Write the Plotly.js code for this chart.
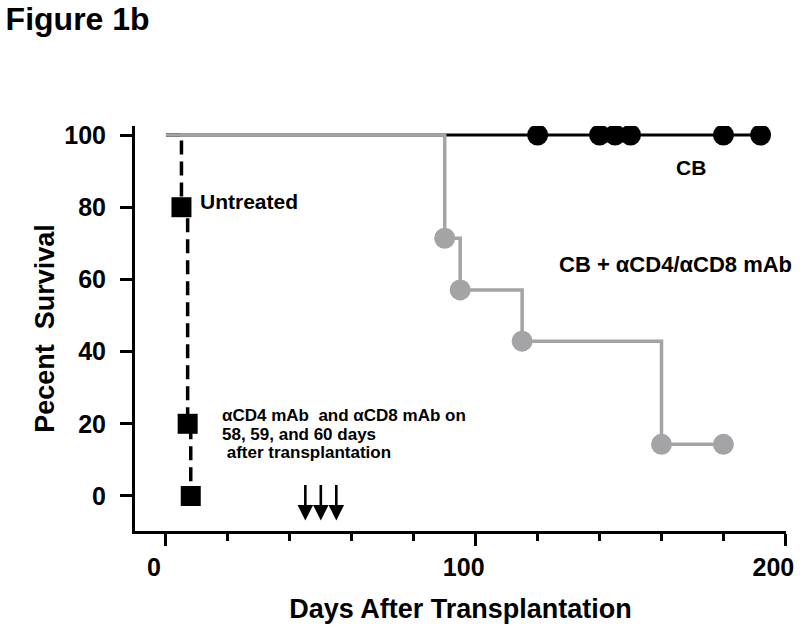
<!DOCTYPE html>
<html>
<head>
<meta charset="utf-8">
<script src="https://cdn.plot.ly/plotly-3.0.1.min.js"></script>
<style>html,body{margin:0;padding:0;background:#fff;}#chart{width:800px;height:630px;}</style>
</head>
<body>
<div id="chart"></div>
<script>
// ---- data ----
var cbDays = [0, 120, 140, 145, 150, 180, 192];
var cbSurv = [100, 100, 100, 100, 100, 100, 100];

var untreatedDays = [0, 5, 7, 8];
var untreatedSurv = [100, 80, 20, 0];

var mabDays = [0, 90, 95, 115, 160, 180];
var mabSurv = [100, 71.4, 57.1, 42.9, 14.3, 14.3];

var arrowDays = [45, 50, 55];

var xTickVals = [0, 100, 200];
var xMinorVals = [20, 40, 60, 80, 120, 140, 160, 180];
var yTickVals = [0, 20, 40, 60, 80, 100];

// ---- styles ----
var FONT = "Liberation Sans, Arial, Helvetica, sans-serif";
var GRAY = "#a4a4a7";

var traces = [
  {x: cbDays, y: cbSurv, mode: "lines", line: {color: "#000", width: 2.8}, hoverinfo: "skip"},
  {x: cbDays.slice(1), y: cbSurv.slice(1), mode: "markers",
   marker: {symbol: "circle", size: 21, color: "#000"}, hoverinfo: "skip"},
  {x: untreatedDays, y: untreatedSurv, mode: "lines", line: {color: "#000", width: 3.5, shape: "hv", dash: "14px,7px"}, hoverinfo: "skip"},
  {x: untreatedDays.slice(1), y: untreatedSurv.slice(1), mode: "markers",
   marker: {symbol: "square", size: 20, color: "#000"}, hoverinfo: "skip"},
  {x: mabDays, y: mabSurv, mode: "lines", line: {color: GRAY, width: 3.5, shape: "hv"}, hoverinfo: "skip"},
  {x: mabDays.slice(1), y: mabSurv.slice(1), mode: "markers",
   marker: {symbol: "circle", size: 21, color: GRAY}, hoverinfo: "skip"}
];

var annFont = function (s) { return {family: FONT, size: s, color: "#000", weight: "bold"}; };

var annotations = [
  {x: 10.5, y: 81.5, xref: "x", yref: "y", text: "Untreated", showarrow: false, xanchor: "left", yanchor: "middle", font: annFont(21)},
  {x: 169.5, y: 91, xref: "x", yref: "y", text: "CB", showarrow: false, xanchor: "center", yanchor: "middle", font: annFont(21)},
  {x: 126.3, y: 64.2, xref: "x", yref: "y", text: "CB + αCD4/αCD8 mAb", showarrow: false, xanchor: "left", yanchor: "middle", font: annFont(22)},
  {x: 17.5, y: 22.2, xref: "x", yref: "y", text: "αCD4 mAb\u00a0 and αCD8 mAb on", showarrow: false, xanchor: "left", yanchor: "middle", font: annFont(17)},
  {x: 17.5, y: 17.0, xref: "x", yref: "y", text: "58, 59, and 60 days", showarrow: false, xanchor: "left", yanchor: "middle", font: annFont(17)},
  {x: 17.5, y: 12.0, xref: "x", yref: "y", text: "\u00a0after transplantation", showarrow: false, xanchor: "left", yanchor: "middle", font: annFont(17)}
];
arrowDays.forEach(function (d) {
  annotations.push({x: d, y: -6.8, xref: "x", yref: "y", ax: 0, ay: -37, text: "", showarrow: true,
    arrowhead: 2, arrowsize: 1.2, arrowwidth: 2.6, arrowcolor: "#000", standoff: 0});
});

var layout = {
  width: 800, height: 630,
  margin: {l: 135, r: 14, t: 126, b: 99, pad: 0},
  paper_bgcolor: "#fff", plot_bgcolor: "#fff",
  showlegend: false,
  font: {family: FONT, color: "#000"},
  title: {text: "Figure 1b", xref: "container", yref: "container", x: 0.007, xanchor: "left", y: 0.988, yanchor: "top",
          font: {family: FONT, size: 32, color: "#000", weight: "bold"}},
  xaxis: {
    range: [-10, 200.2], showgrid: false, zeroline: false,
    showline: true, linecolor: "#000", linewidth: 3,
    ticks: "outside", ticklen: 12, tickwidth: 3, tickcolor: "#000",
    tickmode: "array", tickvals: xTickVals, ticktext: xTickVals.map(String),
    minor: {tickmode: "array", tickvals: xMinorVals, ticks: "outside", ticklen: 7, tickwidth: 3, tickcolor: "#000", showgrid: false},
    tickfont: {family: FONT, size: 25, color: "#000", weight: "bold"},
    ticklabelshift: -12, ticklabelstandoff: 0,
    title: {text: "Days After Transplantation", standoff: 20, font: {family: FONT, size: 27, color: "#000", weight: "bold"}}
  },
  yaxis: {
    range: [-9.7, 102.5], showgrid: false, zeroline: false,
    showline: true, linecolor: "#000", linewidth: 3,
    ticks: "outside", ticklen: 12, tickwidth: 3, tickcolor: "#000",
    tickmode: "array", tickvals: yTickVals, ticktext: yTickVals.map(String),
    tickfont: {family: FONT, size: 25, color: "#000", weight: "bold"},
    ticklabelstandoff: 9,
    title: {text: "Pecent\u00a0 Survival", standoff: 2, font: {family: FONT, size: 27, color: "#000", weight: "bold"}}
  },
  annotations: annotations
};

Plotly.newPlot("chart", traces, layout, {staticPlot: true, displayModeBar: false});
</script>
</body>
</html>
